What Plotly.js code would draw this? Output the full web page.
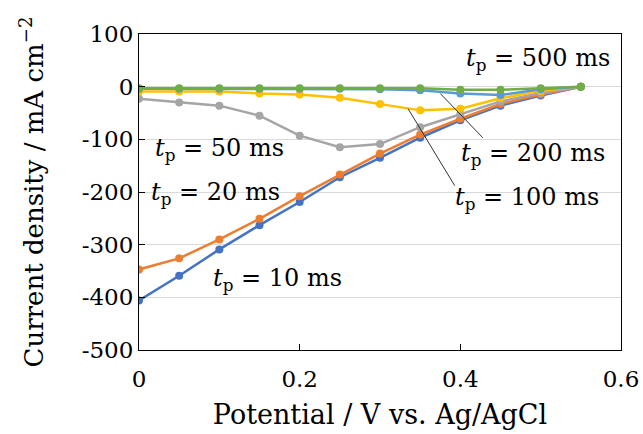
<!DOCTYPE html>
<html><head><meta charset="utf-8">
<script src="https://cdn.plot.ly/plotly-3.0.1.min.js"></script>
<style>html,body{margin:0;padding:0;background:#fff}#c{width:643px;height:434px}</style>
</head><body><div id="c"></div>
<script>
const potential = [0, 0.05, 0.1, 0.15, 0.2, 0.25, 0.3, 0.35, 0.4, 0.45, 0.5, 0.55];
const j10ms  = [-406, -359, -309, -263, -219, -172, -135, -97, -64, -36, -17, 0];
const j20ms  = [-347, -326, -290, -251, -208, -167, -127, -91, -61, -33, -15, 0];
const j50ms  = [-23, -30, -36, -55, -93, -115, -109, -77, -52, -28, -12, 0];
const j100ms = [-9, -9, -9, -13, -15, -21, -33, -45, -42, -22, -8, 0];
const j200ms = [-4, -4, -4, -4, -4, -4, -5, -7, -13, -16, -5, 0];
const j500ms = [-3, -3, -3, -3, -3, -3, -3, -3, -6, -6, -3, 0];
const seriesNames = ["10 ms", "20 ms", "50 ms", "100 ms", "200 ms", "500 ms"];
const seriesData = [j10ms, j20ms, j50ms, j100ms, j200ms, j500ms];
const colors = ["#4472C4", "#ED7D31", "#A5A5A5", "#FFC000", "#5B9BD5", "#70AD47"];
const yTicks = [100, 0, -100, -200, -300, -400, -500];
const yTickText = ["100", "0", "-100", "-200", "-300", "-400", "-500"];
const xTicks = [0, 0.2, 0.4, 0.6];
const xTickText = ["0", "0.2", "0.4", "0.6"];

const F = "DejaVu Serif, Liberation Serif, serif";
const traces = seriesData.map((d, i) => ({
  x: potential, y: d, type: "scatter", mode: "lines+markers", name: seriesNames[i],
  line: {color: colors[i], width: 2.5}, marker: {color: colors[i], size: 8}
}));

function lab(name, x, y, xanchor) {
  return {x: x, y: y, xref: "x", yref: "y", xanchor: xanchor, yanchor: "middle", showarrow: false,
    text: "<i>t</i><sub>p</sub> = " + name, font: {family: F, size: 24, color: "#000"}};
}
const annotations = [
  lab("500 ms", 0.589, 52, "right"),
  lab("50 ms", 0.018, -120, "left"),
  lab("200 ms", 0.398, -128, "left"),
  lab("20 ms", 0.012, -203, "left"),
  lab("100 ms", 0.391, -213, "left"),
  lab("10 ms", 0.090, -367, "left")
];
const shapes = [
  {type: "line", xref: "x", yref: "y", x0: 0.375, y0: -13, x1: 0.428, y1: -97, line: {color: "#333", width: 1}},
  {type: "line", xref: "x", yref: "y", x0: 0.335, y0: -42, x1: 0.393, y1: -188, line: {color: "#333", width: 1}}
];

const layout = {
  width: 643, height: 434, margin: {l: 139, r: 22, t: 34, b: 84},
  paper_bgcolor: "#fff", plot_bgcolor: "#fff", showlegend: false,
  font: {family: F, size: 23, color: "#000"},
  xaxis: {range: [0, 0.6], tickvals: xTicks, ticktext: xTickText, ticks: "inside", ticklen: 6,
    tickcolor: "#000", showgrid: false, zeroline: false, showline: true, linecolor: "#000", mirror: true,
    ticklabelstandoff: 8,
    title: {text: "Potential / V vs. Ag/AgCl", font: {family: F, size: 27}, standoff: 14}},
  yaxis: {range: [-500, 100], tickvals: yTicks, ticktext: yTickText, ticks: "inside", ticklen: 6,
    tickcolor: "#000", showgrid: true, gridcolor: "#d9d9d9", zeroline: false, showline: true,
    linecolor: "#000", mirror: true,
    title: {text: "Current density / mA cm<sup>\u22122</sup>", font: {family: F, size: 26}, standoff: 30}},
  annotations: annotations, shapes: shapes
};
Plotly.newPlot("c", traces, layout, {displayModeBar: false, staticPlot: true});
</script></body></html>
